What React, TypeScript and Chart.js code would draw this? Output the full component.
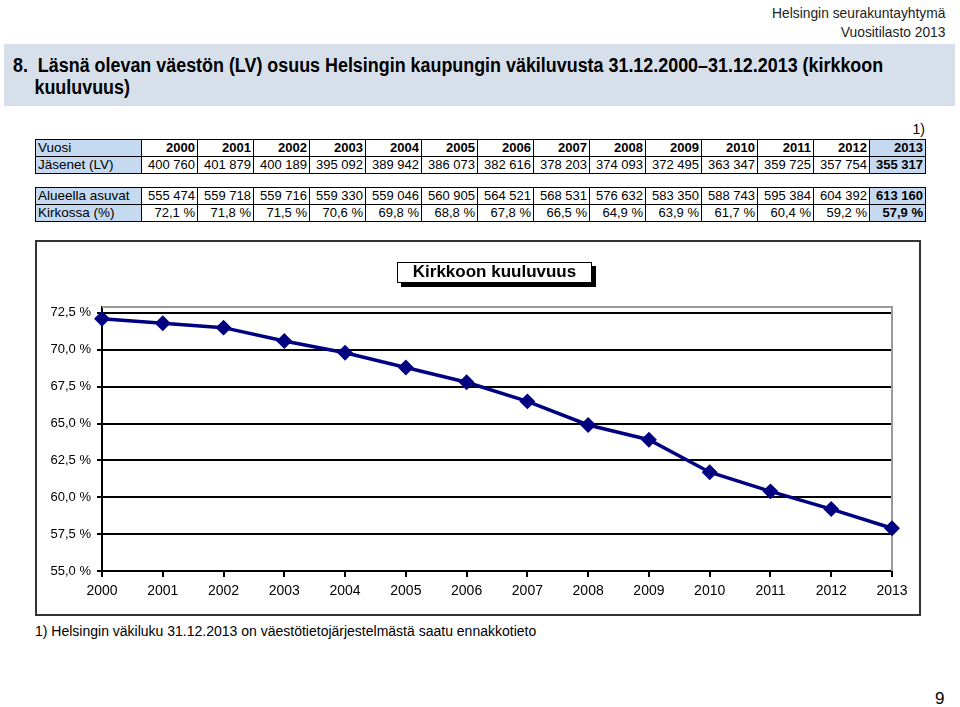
import React, { useEffect, useRef } from "react";
import { Chart, registerables } from "chart.js";

Chart.register(...registerables);

const years = ["2000", "2001", "2002", "2003", "2004", "2005", "2006", "2007", "2008", "2009", "2010", "2011", "2012", "2013"];
const members = [400760, 401879, 400189, 395092, 389942, 386073, 382616, 378203, 374093, 372495, 363347, 359725, 357754, 355317];
const residents = [555474, 559718, 559716, 559330, 559046, 560905, 564521, 568531, 576632, 583350, 588743, 595384, 604392, 613160];
const churchShare = [72.1, 71.8, 71.5, 70.6, 69.8, 68.8, 67.8, 66.5, 64.9, 63.9, 61.7, 60.4, 59.2, 57.9];
const yTicks = [55, 57.5, 60, 62.5, 65, 67.5, 70, 72.5];

const FONT = "'Liberation Sans', Arial, Helvetica, sans-serif";
const HILITE = "#c5d9f1";

const fmtInt = (n: number) => n.toString().replace(/\B(?=(\d{3})+(?!\d))/g, " ");
const fmtPct = (v: number) => v.toFixed(1).replace(".", ",") + " %";

const plotBorder = {
  id: "plotBorder",
  beforeDatasetsDraw(chart: any) {
    const { ctx, chartArea } = chart;
    ctx.save();
    ctx.strokeStyle = "#9a9a9a";
    ctx.lineWidth = 2;
    ctx.beginPath();
    ctx.moveTo(chartArea.left, chartArea.top);
    ctx.lineTo(chartArea.right, chartArea.top);
    ctx.lineTo(chartArea.right, chartArea.bottom);
    ctx.stroke();
    ctx.restore();
  },
};

function LineChart() {
  const ref = useRef<HTMLCanvasElement | null>(null);
  useEffect(() => {
    if (!ref.current) return;
    const chart = new Chart(ref.current, {
      type: "line",
      data: {
        labels: years,
        datasets: [
          {
            label: "Kirkossa (%)",
            data: churchShare,
            borderColor: "#000080",
            backgroundColor: "#000080",
            borderWidth: 3.5,
            pointStyle: "rectRot",
            pointRadius: 5.5,
            pointBackgroundColor: "#000080",
            pointBorderColor: "#000080",
            tension: 0,
            fill: false,
          },
        ],
      },
      options: {
        animation: false,
        responsive: false,
        layout: { padding: { top: 67, right: 29, left: 0, bottom: 0 } },
        plugins: { legend: { display: false }, tooltip: { enabled: false }, title: { display: false } },
        scales: {
          x: {
            type: "category",
            offset: false,
            grid: { drawOnChartArea: false, drawTicks: true, tickLength: 6, color: "#000", lineWidth: 2 },
            border: { display: true, color: "#000", width: 2 },
            ticks: { font: { family: FONT, size: 14 }, color: "#000", padding: 6, maxRotation: 0, autoSkip: false },
            afterFit: (s: any) => {
              s.height = 45;
            },
          },
          y: {
            type: "linear",
            min: 55,
            max: 72.9,
            afterBuildTicks: (s: any) => {
              s.ticks = yTicks.map((v) => ({ value: v }));
            },
            afterFit: (s: any) => {
              s.width = 67;
            },
            grid: { color: "#000", lineWidth: 2, drawTicks: true, tickLength: 5 },
            border: { display: true, color: "#000", width: 2 },
            ticks: {
              font: { family: FONT, size: 13 },
              color: "#000",
              padding: 6,
              callback: (v: any) => fmtPct(Number(v)),
            },
          },
        },
      },
      plugins: [plotBorder],
    });
    return () => chart.destroy();
  }, []);
  return <canvas ref={ref} width={886} height={376} style={{ position: "absolute", left: 35, top: 240, width: 886, height: 376 }} />;
}

const cellBase: React.CSSProperties = {
  border: "1px solid #000",
  padding: "0 2px",
  height: 16,
  lineHeight: "16px",
  textAlign: "right",
  fontSize: 13,
  whiteSpace: "nowrap",
  overflow: "hidden",
};

function DataTable({ top, rows }: { top: number; rows: { label: string; values: string[]; bold?: boolean }[] }) {
  return (
    <table
      style={{
        position: "absolute",
        left: 35,
        top,
        width: 891,
        borderCollapse: "collapse",
        tableLayout: "fixed",
        fontFamily: FONT,
        color: "#000",
      }}
    >
      <colgroup>
        <col style={{ width: 106 }} />
        {years.map((y) => (
          <col key={y} />
        ))}
      </colgroup>
      <tbody>
        {rows.map((r) => (
          <tr key={r.label}>
            <td style={{ ...cellBase, textAlign: "left", fontSize: 13.5, background: HILITE, paddingLeft: 2 }}>{r.label}</td>
            {r.values.map((v, i) => (
              <td
                key={i}
                style={{
                  ...cellBase,
                  fontWeight: r.bold || i === r.values.length - 1 ? "bold" : "normal",
                  background: i === r.values.length - 1 ? HILITE : "#fff",
                }}
              >
                {v}
              </td>
            ))}
          </tr>
        ))}
      </tbody>
    </table>
  );
}

export default function App() {
  return (
    <div style={{ position: "absolute", left: 0, top: 0, width: 960, height: 707, background: "#fff", fontFamily: FONT, overflow: "hidden" }}>
      <div
        style={{
          position: "absolute",
          right: 15,
          top: 3,
          textAlign: "right",
          fontFamily: FONT,
          fontSize: 15,
          lineHeight: "19px",
          color: "#222",
          transform: "scaleX(0.92)",
          transformOrigin: "right top",
          whiteSpace: "nowrap",
        }}
      >
        <div>Helsingin seurakuntayhtymä</div>
        <div>Vuositilasto 2013</div>
      </div>
      <div style={{ position: "absolute", left: 4, top: 44, width: 951, height: 62, background: "#d6dfea" }} />
      <div
        style={{
          position: "absolute",
          left: 13,
          top: 54,
          fontFamily: FONT,
          fontWeight: "bold",
          fontSize: 20,
          lineHeight: "22px",
          color: "#000",
          whiteSpace: "nowrap",
          transform: "scaleX(0.895)",
          transformOrigin: "left top",
        }}
      >
        <div>8.&nbsp; Läsnä olevan väestön (LV) osuus Helsingin kaupungin väkiluvusta 31.12.2000–31.12.2013 (kirkkoon</div>
        <div style={{ paddingLeft: 24 }}>kuuluvuus)</div>
      </div>
      <div style={{ position: "absolute", left: 880, top: 121, width: 45, textAlign: "right", fontSize: 14, fontFamily: FONT }}>1)</div>
      <DataTable
        top={139}
        rows={[
          { label: "Vuosi", values: years, bold: true },
          { label: "Jäsenet (LV)", values: members.map(fmtInt) },
        ]}
      />
      <DataTable
        top={187}
        rows={[
          { label: "Alueella asuvat", values: residents.map(fmtInt) },
          { label: "Kirkossa (%)", values: churchShare.map(fmtPct) },
        ]}
      />
      <LineChart />
      <div
        style={{
          position: "absolute",
          left: 35,
          top: 240,
          width: 886,
          height: 376,
          boxSizing: "border-box",
          border: "2px solid #333",
          pointerEvents: "none",
        }}
      />
      <div
        style={{
          position: "absolute",
          left: 397,
          top: 262,
          width: 195,
          height: 21,
          boxSizing: "border-box",
          border: "1.5px solid #000",
          boxShadow: "4px 4px 0 #000",
          background: "#fff",
          fontFamily: FONT,
          fontWeight: "bold",
          fontSize: 17,
          lineHeight: "18px",
          textAlign: "center",
          color: "#000",
        }}
      >
        Kirkkoon kuuluvuus
      </div>
      <div style={{ position: "absolute", left: 35, top: 623, fontSize: 14, fontFamily: FONT, color: "#000" }}>
        1) Helsingin väkiluku 31.12.2013 on väestötietojärjestelmästä saatu ennakkotieto
      </div>
      <div style={{ position: "absolute", left: 935, top: 689, fontSize: 17, fontFamily: FONT, color: "#000" }}>9</div>
    </div>
  );
}
